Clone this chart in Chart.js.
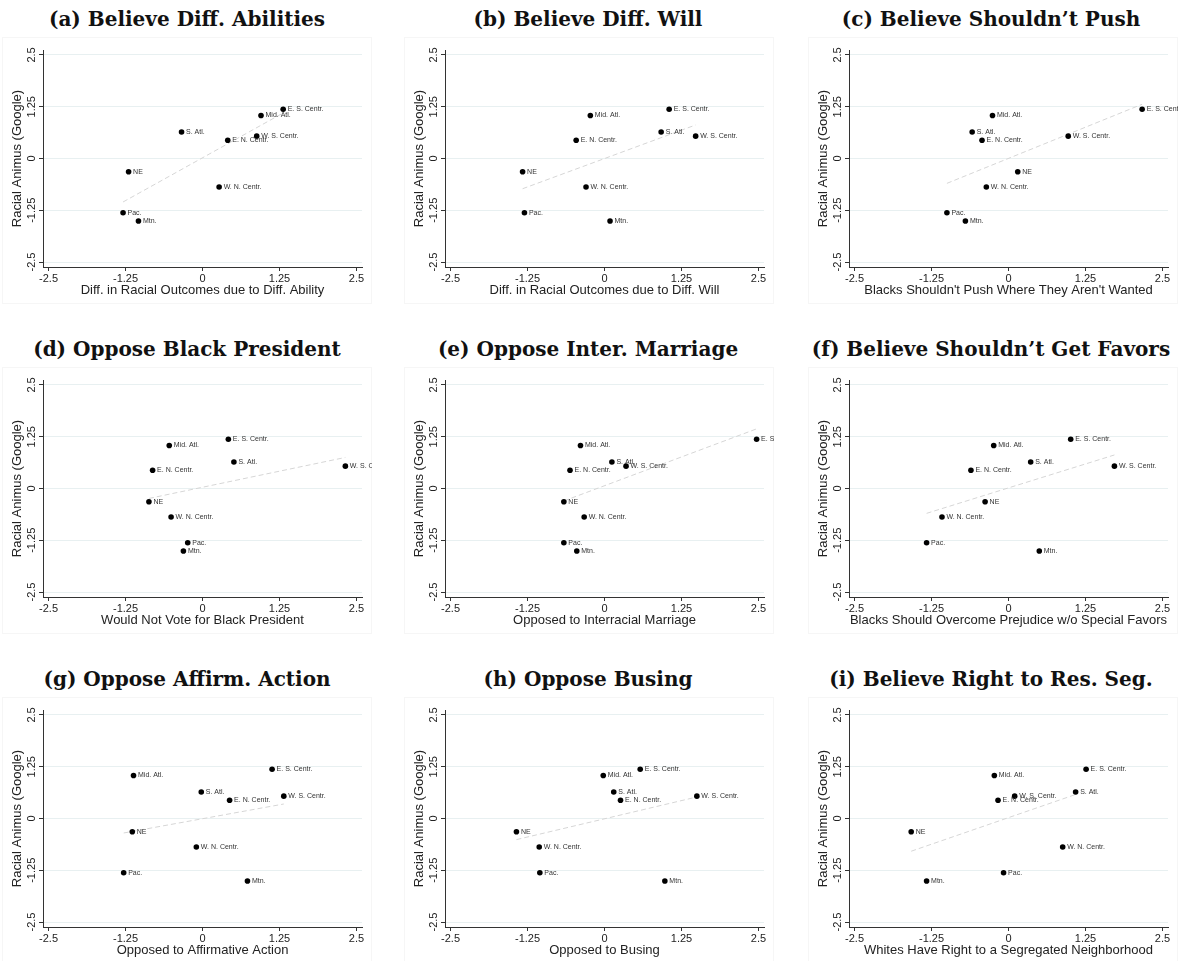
<!DOCTYPE html>
<html lang="en">
<head>
<meta charset="UTF-8">
<title>Racial Animus (Google) vs. GSS attitudes</title>
<style>
body {
    margin: 0;
    background: #fff;
    width: 1188px;
    height: 961px;
    overflow: hidden;
    position: relative;
    font-family: "Liberation Sans", Arial, sans-serif;
}
.panel {
    position: absolute;
    width: 396px;
    height: 330px;
}
.panel h3 {
    position: absolute;
    top: 0;
    margin: 0;
    font-family: "DejaVu Serif", serif;
    font-weight: bold;
    font-size: 20px;
    line-height: 39px;
    white-space: nowrap;
    color: #111;
    transform: translateX(-50%);
}
.panel canvas {
    position: absolute;
    left: 0;
    top: 36px;
}
</style>
</head>
<body>
<script src="https://cdn.jsdelivr.net/npm/chart.js"></script>
<script>
// census divisions, same y (animus) in every panel
const regions = ['NE', 'Mid. Atl.', 'E. N. Centr.', 'W. N. Centr.', 'S. Atl.', 'E. S. Centr.', 'W. S. Centr.', 'Mtn.', 'Pac.'];
const animus  = [-0.32, 1.04, 0.44, -0.69, 0.64, 1.19, 0.54, -1.51, -1.31];

// x values per panel (same region order)
const xAbility   = [-1.20, 0.95, 0.41, 0.27, -0.34, 1.31, 0.88, -1.04, -1.29];
const xWill      = [-1.33, -0.23, -0.46, -0.30, 0.92, 1.05, 1.48, 0.09, -1.30];
const xPush      = [0.15, -0.26, -0.43, -0.36, -0.59, 2.17, 0.97, -0.70, -1.00];
const xPresident = [-0.87, -0.54, -0.81, -0.51, 0.51, 0.42, 2.32, -0.31, -0.24];
const xMarriage  = [-0.66, -0.39, -0.56, -0.33, 0.12, 2.47, 0.35, -0.45, -0.66];
const xFavors    = [-0.38, -0.24, -0.61, -1.08, 0.36, 1.01, 1.72, 0.50, -1.33];
const xAffirm    = [-1.14, -1.12, 0.44, -0.10, -0.02, 1.13, 1.32, 0.73, -1.28];
const xBusing    = [-1.43, -0.02, 0.26, -1.06, 0.15, 0.58, 1.50, 0.98, -1.05];
const xSegreg    = [-1.58, -0.23, -0.17, 0.88, 1.09, 1.26, 0.10, -1.33, -0.08];

// fitted line end points per panel
const fitX = [[-1.29, 1.31], [-1.33, 1.48], [-1.00, 2.17], [-0.87, 2.32], [-0.66, 2.47], [-1.33, 1.72], [-1.28, 1.32], [-1.43, 1.50], [-1.58, 1.09]];
const fitY = [[-1.05, 1.10], [-0.73, 0.81], [-0.60, 1.31], [-0.24, 0.75], [-0.30, 1.44], [-0.60, 0.81], [-0.35, 0.35], [-0.51, 0.52], [-0.79, 0.58]];

const panelTitles = ['(a) Believe Diff. Abilities', '(b) Believe Diff. Will', '(c) Believe Shouldn\u2019t Push',
    '(d) Oppose Black President', '(e) Oppose Inter. Marriage', '(f) Believe Shouldn\u2019t Get Favors',
    '(g) Oppose Affirm. Action', '(h) Oppose Busing', '(i) Believe Right to Res. Seg.'];
const xTitles = ['Diff. in Racial Outcomes due to Diff. Ability', 'Diff. in Racial Outcomes due to Diff. Will',
    'Blacks Shouldn\'t Push Where They Aren\'t Wanted', 'Would Not Vote for Black President',
    'Opposed to Interracial Marriage', 'Blacks Should Overcome Prejudice w/o Special Favors',
    'Opposed to Affirmative Action', 'Opposed to Busing', 'Whites Have Right to a Segregated Neighborhood'];
const yTitle = 'Racial Animus (Google)';
const tickVals = [-2.5, -1.25, 0, 1.25, 2.5];

const xSeries = [xAbility, xWill, xPush, xPresident, xMarriage, xFavors, xAffirm, xBusing, xSegreg];

const padLeft = [0, 6, 14];
const titleCenter = [187, 192, 199];
const rowTop = [0, 330, 660];

const labelPlugin = {
    id: 'pointLabels',
    beforeDraw(chart) {
        // faint graph-region frame
        const { ctx, chartArea } = chart;
        ctx.save();
        ctx.strokeStyle = '#f6f6f6';
        ctx.lineWidth = 1;
        ctx.strokeRect(chartArea.left - 40.5, 1.5, chartArea.right - chartArea.left + 50, chart.height - 2);
        ctx.restore();
    },
    afterDatasetsDraw(chart) {
        const { ctx, chartArea } = chart;
        const meta = chart.getDatasetMeta(0);
        ctx.save();
        ctx.beginPath();
        ctx.rect(0, 0, chartArea.right + 10, chart.height);
        ctx.clip();
        ctx.font = '7px "Liberation Sans", Arial, sans-serif';
        ctx.fillStyle = '#333';
        ctx.textAlign = 'left';
        ctx.textBaseline = 'middle';
        meta.data.forEach((pt, i) => {
            ctx.fillText(regions[i], pt.x + 4.5, pt.y);
        });
        ctx.restore();

        // rotated y tick labels
        const ys = chart.scales.y;
        ctx.save();
        ctx.font = '11px "Liberation Sans", Arial, sans-serif';
        ctx.fillStyle = '#222';
        ctx.textAlign = 'center';
        ctx.textBaseline = 'middle';
        tickVals.forEach(v => {
            ctx.save();
            ctx.translate(chartArea.left - 11, ys.getPixelForValue(v));
            ctx.rotate(-Math.PI / 2);
            ctx.fillText(String(v), 0, 0);
            ctx.restore();
        });
        ctx.restore();
    }
};

for (let k = 0; k < 9; k++) {
    const col = k % 3, row = Math.floor(k / 3);
    const panel = document.createElement('div');
    panel.className = 'panel';
    panel.style.left = (col * 396) + 'px';
    panel.style.top = rowTop[row] + 'px';
    const h = document.createElement('h3');
    h.textContent = panelTitles[k];
    h.style.left = titleCenter[col] + 'px';
    panel.appendChild(h);
    const cv = document.createElement('canvas');
    cv.width = 396;
    cv.height = 268;
    panel.appendChild(cv);
    document.body.appendChild(panel);

    const pl = padLeft[col];
    new Chart(cv.getContext('2d'), {
        type: 'scatter',
        data: {
            datasets: [{
                data: xSeries[k].map((x, i) => ({ x: x, y: animus[i] })),
                backgroundColor: '#000',
                borderWidth: 0,
                pointRadius: 2.8,
                pointHoverRadius: 2.8
            }, {
                data: fitX[k].map((x, i) => ({ x: x, y: fitY[k][i] })),
                showLine: true,
                borderColor: '#d6d6d6',
                borderWidth: 1,
                borderDash: [5, 3],
                pointRadius: 0
            }]
        },
        options: {
            responsive: false,
            animation: false,
            layout: { padding: { left: pl, right: 396 - pl - 43 - 319, top: 14, bottom: 0 } },
            plugins: { legend: { display: false }, tooltip: { enabled: false } },
            scales: {
                x: {
                    type: 'linear', min: -2.59, max: 2.59,
                    afterBuildTicks: s => { s.ticks = tickVals.map(v => ({ value: v })); },
                    afterFit: s => { s.height = 37; },
                    grid: { display: true, drawOnChartArea: false, drawTicks: true, tickLength: 4, tickColor: '#333' },
                    border: { display: true, color: '#333', width: 1 },
                    ticks: { font: { size: 11 }, color: '#222', padding: 1, maxRotation: 0, callback: v => String(v) },
                    title: { display: true, text: xTitles[k], font: { size: 13 }, color: '#222', padding: { top: 0, bottom: 6 } }
                },
                y: {
                    type: 'linear', min: -2.62, max: 2.62,
                    afterBuildTicks: s => { s.ticks = tickVals.map(v => ({ value: v })); },
                    afterFit: s => { s.width = 43; },
                    grid: { color: '#e8f0f1', drawTicks: true, tickLength: 4, tickColor: '#333' },
                    border: { display: true, color: '#333', width: 1 },
                    ticks: { display: false },
                    title: { display: true, text: yTitle, font: { size: 13 }, color: '#222', padding: { top: 10, bottom: 0 } }
                }
            }
        },
        plugins: [labelPlugin]
    });
}
</script>
</body>
</html>
